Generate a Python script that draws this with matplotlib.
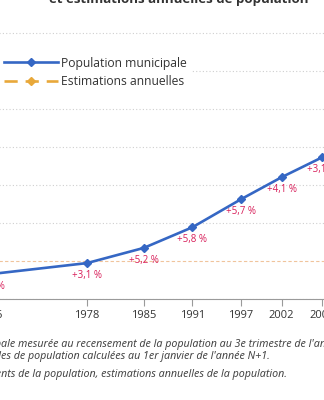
import matplotlib.pyplot as plt

plt.rcParams['font.family'] = ['Open Sans', 'DejaVu Sans']

# Population municipale (recensements)
years = [1958, 1966, 1978, 1985, 1991, 1997, 2002, 2007, 2012, 2017]
pop = [23364, 32607, 47246, 67205, 94410, 131320, 160265, 186452, 212645, 256518]
growth = ["", "+4,2 %", "+3,1 %", "+5,2 %", "+5,8 %", "+5,7 %", "+4,1 %", "+3,1 %", "+2,7 %", "+3,8 %"]

# Estimations annuelles (hors champ, à droite)
est_years = [2017, 2018, 2019, 2020]
est_pop = [256518, 265000, 275000, 285000]

tick_years = [1966, 1978, 1985, 1991, 1997, 2002, 2007, 2012, 2017]

blue = "#3567c4"
orange = "#e8a83a"
red = "#d81f5a"

W, H = 324, 400
fig = plt.figure(figsize=(W / 100, H / 100), dpi=100)
ax = fig.add_axes([-60 / W, 101 / H, 500 / W, 319 / H])

ax.plot(years, pop, color=blue, lw=1.9, marker="D", ms=4.5, label="Population municipale")
ax.plot(est_years, est_pop, color=orange, lw=1.9, ls=(0, (5, 3)), marker="D", ms=4.5,
        label="Estimations annuelles")

for x, y, g in zip(years, pop, growth):
    ax.annotate(g, (x, y), xytext=(0, -9), textcoords="offset points",
                ha="center", va="center", fontsize=7, color=red)

ax.set_xlim(1959.874, 2021.527)
ax.set_ylim(0, 419737)
ax.set_xticks(tick_years)
ax.set_yticks(range(0, 400001, 50000))
ax.tick_params(axis="x", length=5, color="#9a9a9a", labelsize=8, labelcolor="#333333", pad=3)
ax.tick_params(axis="y", left=False, labelleft=False)
for s in ["top", "right", "left"]:
    ax.spines[s].set_visible(False)
ax.spines["bottom"].set_color("#9a9a9a")
ax.spines["bottom"].set_linewidth(0.8)

ax.yaxis.grid(True, color="#cfcfcf", lw=0.8, ls=(0, (1, 2)))
ax.set_axisbelow(True)
gl = ax.yaxis.get_gridlines()
gl[1].set_color("#f0c49c")
gl[1].set_linestyle((0, (3, 2)))

leg = ax.legend(loc="upper left", bbox_to_anchor=(0, 1 - 53 / H), bbox_transform=fig.transFigure,
                borderaxespad=0, borderpad=0.3, handlelength=4.5, handletextpad=0.28,
                labelspacing=0.48, fontsize=8.7, frameon=True, fancybox=False,
                facecolor="white", edgecolor="none", framealpha=1, numpoints=1)
for t in leg.get_texts():
    t.set_color("#333333")

fig.text(179 / W, 1 - 5.5 / H,
         "Évolution de la population municipale\net estimations annuelles de population",
         ha="center", va="bottom", fontsize=9.5, fontweight="bold", color="#333333")

renderer = fig.canvas.get_renderer()


def cut_text(y, prefix, rest):
    kw = dict(fontsize=7.7, style="italic", color="#444444", family=["Noto Sans", "DejaVu Sans"])
    t = fig.text(0, 0, prefix, **kw)
    w = t.get_window_extent(renderer).width
    t.remove()
    fig.text((1 - w) / W, 1 - y / H, prefix + rest, va="center", **kw)


cut_text(344, "Note : Population municip",
         "ale mesurée au recensement de la population au 3e trimestre de l'année N.")
cut_text(356, "Estimations annuell",
         "es de population calculées au 1er janvier de l'année N+1.")
cut_text(375, "Sources : Insee, recenseme",
         "nts de la population, estimations annuelles de la population.")

fig.savefig("out.png", dpi=100)
